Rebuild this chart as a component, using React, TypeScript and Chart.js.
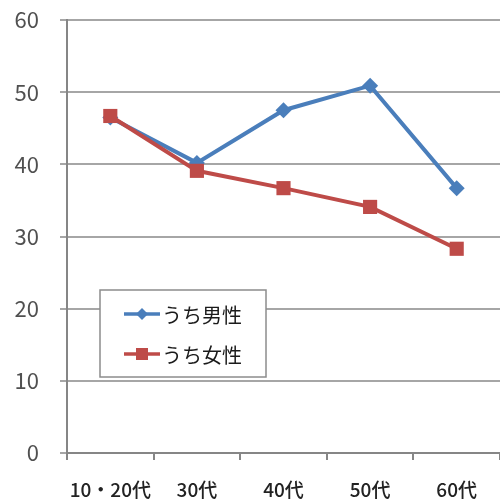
import React, { useEffect, useRef } from "react";
import { Chart, registerables } from "chart.js";

Chart.register(...registerables);

const ageGroups = ["10・20代", "30代", "40代", "50代", "60代"];
const maleValues = [46.5, 40.2, 47.5, 50.9, 36.7];
const femaleValues = [46.7, 39.1, 36.7, 34.1, 28.3];
const seriesNames = ["うち男性", "うち女性"];
const yTicks = [0, 10, 20, 30, 40, 50, 60];

const BLUE = "#4a7ebb";
const RED = "#be4b48";
const FONT = "'Noto Sans CJK JP', 'Noto Sans', sans-serif";

// Boxed legend drawn inside the plot area, lower left
const insetLegend = {
  id: "insetLegend",
  afterDraw(chart: any) {
    const { ctx } = chart;
    const x0 = 100, y0 = 290, w = 166, h = 87;
    ctx.save();
    ctx.fillStyle = "#ffffff";
    ctx.fillRect(x0, y0, w, h);
    ctx.strokeStyle = "#8c8c8c";
    ctx.lineWidth = 1.5;
    ctx.strokeRect(x0, y0, w, h);
    const rows = [
      { name: seriesNames[0], color: BLUE, style: "rectRot", y: y0 + 24 },
      { name: seriesNames[1], color: RED, style: "rect", y: y0 + 64 },
    ];
    rows.forEach((r) => {
      ctx.strokeStyle = r.color;
      ctx.lineWidth = 3.5;
      ctx.beginPath();
      ctx.moveTo(124, r.y);
      ctx.lineTo(160, r.y);
      ctx.stroke();
      ctx.fillStyle = r.color;
      ctx.beginPath();
      if (r.style === "rect") {
        ctx.rect(142 - 6, r.y - 6, 12, 12);
      } else {
        ctx.moveTo(142, r.y - 6);
        ctx.lineTo(148, r.y);
        ctx.lineTo(142, r.y + 6);
        ctx.lineTo(136, r.y);
        ctx.closePath();
      }
      ctx.fill();
      ctx.fillStyle = "#1a1a1a";
      ctx.font = `20px ${FONT}`;
      ctx.textBaseline = "middle";
      ctx.textAlign = "left";
      ctx.fillText(r.name, 162, r.y + 1);
    });
    ctx.restore();
  },
};

export default function App() {
  const canvasRef = useRef<HTMLCanvasElement>(null);

  useEffect(() => {
    document.body.style.margin = "0";
    const chart = new Chart(canvasRef.current as HTMLCanvasElement, {
      type: "line",
      data: {
        labels: ageGroups,
        datasets: [
          {
            label: seriesNames[0],
            data: maleValues,
            borderColor: BLUE,
            backgroundColor: BLUE,
            borderWidth: 4,
            pointStyle: "rectRot",
            pointRadius: 8,
            pointBorderWidth: 0,
            tension: 0,
            order: 2,
          },
          {
            label: seriesNames[1],
            data: femaleValues,
            borderColor: RED,
            backgroundColor: RED,
            borderWidth: 4,
            pointStyle: "rect",
            pointRadius: 10,
            pointBorderWidth: 0,
            tension: 0,
            order: 1,
          },
        ],
      },
      options: {
        animation: false,
        responsive: false,
        layout: { autoPadding: false, padding: { top: 20, right: 0, left: 0, bottom: 0 } },
        plugins: { legend: { display: false }, tooltip: { enabled: false } },
        scales: {
          x: {
            offset: true,
            grid: {
              offset: true,
              drawOnChartArea: false,
              drawTicks: true,
              tickLength: 7,
              color: "#868686",
              lineWidth: 2,
            },
            border: { color: "#868686", width: 2 },
            ticks: {
              color: "#222222",
              font: { family: FONT, size: 19, weight: "500" },
              padding: 18,
              maxRotation: 0,
              autoSkip: false,
            },
            afterFit(scale: any) {
              scale.height = 51;
              scale.paddingLeft = 0;
              scale.paddingRight = 0;
            },
          },
          y: {
            min: 0,
            max: 60,
            afterBuildTicks(scale: any) {
              scale.ticks = yTicks.map((v) => ({ value: v }));
            },
            grid: {
              color: "#a6a6a6",
              lineWidth: 2,
              tickLength: 7,
            },
            border: { color: "#868686", width: 2 },
            ticks: {
              color: "#505050",
              font: { family: FONT, size: 22 },
              padding: 21,
            },
            afterFit(scale: any) {
              scale.width = 67;
              scale.paddingTop = 0;
              scale.paddingBottom = 0;
            },
          },
        },
      },
      plugins: [insetLegend],
    });
    return () => chart.destroy();
  }, []);

  return (
    <div style={{ position: "absolute", left: 0, top: 0, width: 500, height: 504, background: "#fff" }}>
      <canvas ref={canvasRef} width={500} height={504} style={{ display: "block" }} />
    </div>
  );
}
